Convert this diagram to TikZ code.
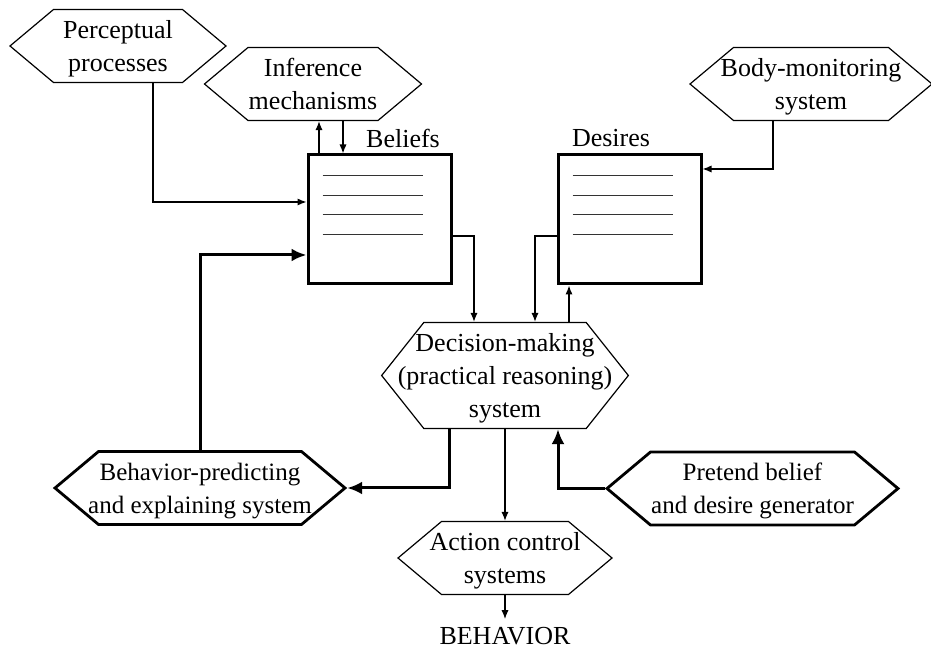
\documentclass[tikz,border=0pt]{standalone}
\usepackage{fontspec}
\setmainfont{Liberation Serif}
\usetikzlibrary{
    shapes.symbols,
    arrows.meta,
    positioning,
    calc,
}

\begin{document}
\begin{tikzpicture}[
    x=0.5pt, y=-0.5pt,
    font=\fontsize{13}{16.5}\selectfont,
    thinarrow/.style={draw, line width=0.65pt, -{Latex[length=4.5pt, width=3.6pt]}},
    thickarrow/.style={draw, line width=1.5pt, -{Latex[length=7.5pt, width=6.5pt]}},
    hexbox/.style={draw, signal, signal to=west and east, signal pointer angle=80,
        line width=0.6pt, align=center, inner xsep=-8pt, inner ysep=0pt,
        text depth=0pt, minimum height=36.5pt},
    boldhex/.style={hexbox, line width=1.4pt, font=\fontsize{12.5}{16.5}\selectfont},
    store/.style={draw, line width=1.5pt, minimum width=71.5pt,
        minimum height=64.5pt, inner sep=0pt},
    storeline/.style={draw, line width=0.55pt, black!80},
    caption/.style={inner sep=1pt},
]

\useasboundingbox (0,0) rectangle (931,651);

% INPUT SYSTEMS
\node[hexbox, minimum width=108pt] (percep) at (118,46) {Perceptual\\processes};
\node[hexbox, minimum width=108.5pt] (infer) at (313,84) {Inference\\mechanisms};
\node[hexbox, minimum width=121pt] (bodymon) at (811,84) {Body-monitoring\\system};

% BELIEF AND DESIRE STORES
\node[store] (beliefs) at (379.5,219.5) {};
\node[store] (desires) at (629.5,219.5) {};
\node[caption] (beltext) at (403,138) {Beliefs};
\node[caption] (destext) at (611,138) {Desires};

\foreach \n in {beliefs, desires}
    \foreach \dy in {22, 41.7, 61.3, 81}
        \draw[storeline] ($(\n.north west)+(16,\dy)$) -- ++(100,0);

% DECISION MAKING
\node[hexbox, minimum width=123pt, minimum height=53pt, signal pointer angle=103,
    inner xsep=-13pt] (decide) at (505,375.5)
    {Decision-making\\(practical reasoning)\\system};

% MIND READING
\node[boldhex, minimum width=145pt] (predict) at (200,488)
    {Behavior-predicting\\and explaining system};
\node[boldhex, minimum width=145.5pt] (pretend) at (752.5,488.5)
    {Pretend belief\\and desire generator};

% ACTION
\node[hexbox, minimum width=107pt] (action) at (505,558) {Action control\\systems};
\node[caption, below=15pt of action] (behavior) {BEHAVIOR};

% ARROWS
\coordinate (percout) at ($(percep.south)+(35,0)$);
\coordinate (infup) at ($(beliefs.north)+(-60.5,0)$);
\coordinate (infdown) at ($(beliefs.north)+(-36.5,0)$);
\coordinate (bodyout) at ($(bodymon.south)+(-38,0)$);
\coordinate (desin) at ($(decide.north)+(64,0)$);
\coordinate (predout) at ($(decide.south)+(-56,0)$);

\draw[thinarrow] (percout) |- ($(beliefs.west)+(0,-17.5)$);
\draw[thinarrow] (infup) -- (infup |- infer.south);
\draw[thinarrow] (infdown |- infer.south) -- (infdown);
\draw[thinarrow] (bodyout) |- ($(desires.east)+(0,-50.5)$);

\draw[thinarrow] ($(beliefs.east)+(0,16.5)$) -| ($(decide.north)+(-31,0)$);
\draw[thinarrow] ($(desires.west)+(0,16.5)$) -| ($(decide.north)+(30,0)$);
\draw[thinarrow] (desin) -- (desin |- desires.south);

\draw[thickarrow] (predict.north) |- ($(beliefs.west)+(0,35.5)$);
\draw[thickarrow] (predout) |- (predict.east);
\draw[thickarrow] (pretend.west) -| ($(decide.south)+(53,0)$);

\draw[thinarrow] (decide.south) -- (action.north);
\draw[thinarrow] (action.south) -- ([yshift=3pt]behavior.north);

\end{tikzpicture}
\end{document}
